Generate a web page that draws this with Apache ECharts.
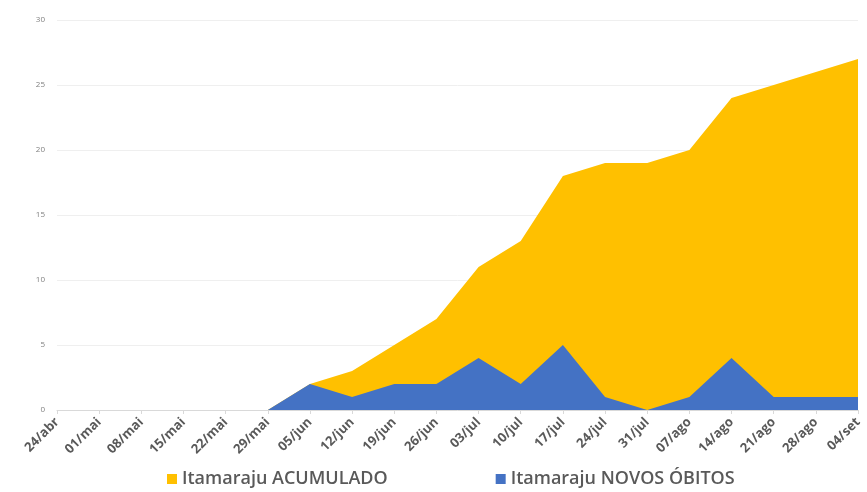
<!DOCTYPE html>
<html>
<head>
<meta charset="utf-8">
<script src="https://cdn.jsdelivr.net/npm/echarts@6/dist/echarts.min.js"></script>
<style>
  html, body { margin: 0; padding: 0; background: #fff; }
  #chart { width: 867px; height: 492px; }
</style>
</head>
<body>
<div id="chart"></div>
<script>
// Weekly dates (dd/mês)
const semanas = ['24/abr','01/mai','08/mai','15/mai','22/mai','29/mai','05/jun','12/jun','19/jun','26/jun',
  '03/jul','10/jul','17/jul','24/jul','31/jul','07/ago','14/ago','21/ago','28/ago','04/set'];
// Cumulative deaths
const acumulado = [0,0,0,0,0,0,2,3,5,7,11,13,18,19,19,20,24,25,26,27];
// New deaths per week
const novosObitos = [0,0,0,0,0,0,2,1,2,2,4,2,5,1,0,1,4,1,1,1];
const yTicks = { min: 0, max: 30, interval: 5 };

const chart = echarts.init(document.getElementById('chart'));
chart.setOption({
  animation: false,
  grid: { left: 57, right: 9, top: 20, bottom: 82 },
  legend: {
    top: 465,
    left: 162,
    itemGap: 108,
    itemWidth: 10,
    itemHeight: 10,
    icon: 'rect',
    textStyle: { fontFamily: 'Open Sans', fontWeight: 600, fontSize: 18, color: '#595959' },
    data: ['Itamaraju ACUMULADO', 'Itamaraju NOVOS ÓBITOS']
  },
  xAxis: {
    type: 'category',
    data: semanas,
    boundaryGap: false,
    axisLine: { lineStyle: { color: '#d9d9d9' } },
    axisTick: { show: true, alignWithLabel: true, length: 4, lineStyle: { color: '#d9d9d9' } },
    axisLabel: {
      rotate: 45, interval: 0, margin: 10,
      fontFamily: 'Open Sans', fontWeight: 'bold', fontSize: 13, color: '#595959'
    }
  },
  yAxis: {
    type: 'value',
    min: yTicks.min, max: yTicks.max, interval: yTicks.interval,
    axisLine: { show: false },
    axisTick: { show: false },
    splitLine: { lineStyle: { color: '#efefef' } },
    axisLabel: { fontFamily: 'Open Sans', fontSize: 8, color: '#7f7f7f', margin: 12 }
  },
  series: [
    {
      name: 'Itamaraju ACUMULADO',
      type: 'line',
      data: acumulado,
      symbol: 'none',
      lineStyle: { width: 0 },
      itemStyle: { color: '#FFC000' },
      areaStyle: { color: '#FFC000', opacity: 1 }
    },
    {
      name: 'Itamaraju NOVOS ÓBITOS',
      type: 'line',
      data: novosObitos,
      symbol: 'none',
      lineStyle: { width: 0 },
      itemStyle: { color: '#4472C4' },
      areaStyle: { color: '#4472C4', opacity: 1 }
    }
  ]
});
</script>
</body>
</html>
